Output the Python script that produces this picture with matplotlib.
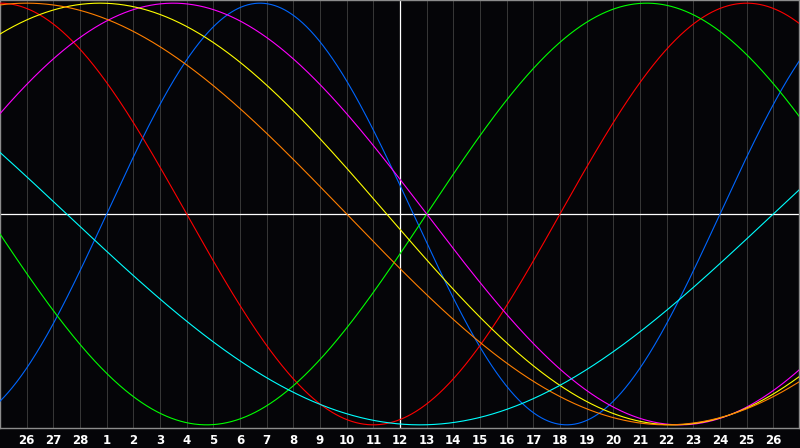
import numpy as np
import matplotlib
matplotlib.use('Agg')
import matplotlib.pyplot as plt

# biorhythm cycles (days) and their colours
cycle_names = ['physical', 'emotional', 'intellectual', 'intuitive', 'aesthetic', 'awareness', 'spiritual']
cycle_periods = [23, 28, 33, 38, 43, 48, 53]
cycle_colors = ['#0066ff', '#ff0000', '#00ff00', '#ff00ff', '#ffff00', '#ff7f00', '#00ffff']

# days lived at the left edge of the chart
days_at_left = 15659
today_index = 15

day_positions = list(range(1, 30))
day_labels = [26, 27, 28, 1, 2, 3, 4, 5, 6, 7, 8, 9, 10, 11, 12, 13, 14, 15, 16,
              17, 18, 19, 20, 21, 22, 23, 24, 25, 26]


def main():
	fig = plt.figure(figsize=(8, 4.48), dpi=100, facecolor='#050508')
	ax = fig.add_axes([0, 20 / 448, 799 / 800, 428 / 448])
	ax.set_facecolor('#050508')

	# one px = 0.72 pt at 100 dpi
	for x in day_positions:
		ax.axvline(x, color='#363636', lw=0.72, zorder=1)

	ax.axhline(0, color='white', lw=0.9, zorder=2)
	ax.axvline(today_index, color='white', lw=0.9, zorder=2)

	t = np.linspace(0, 30, 1201)
	for period, color in zip(cycle_periods, cycle_colors):
		ax.plot(t, np.sin(2 * np.pi * (t + days_at_left) / period), color=color, lw=0.8, zorder=3)

	ax.set_xlim(0, 30 * 799 / 800)
	ax.set_ylim(-1.015, 1.015)
	ax.set_yticks([])
	ax.set_xticks(day_positions)
	ax.set_xticklabels([str(d) for d in day_labels], color='white', fontsize=8.5, fontweight='bold')
	ax.tick_params(axis='x', length=0, pad=4)
	for s in ax.spines.values():
		s.set_color('#8c8c8c')
		s.set_linewidth(1)

	fig.savefig('out.png', dpi=100, facecolor=fig.get_facecolor())


if __name__ == '__main__':
	main()
